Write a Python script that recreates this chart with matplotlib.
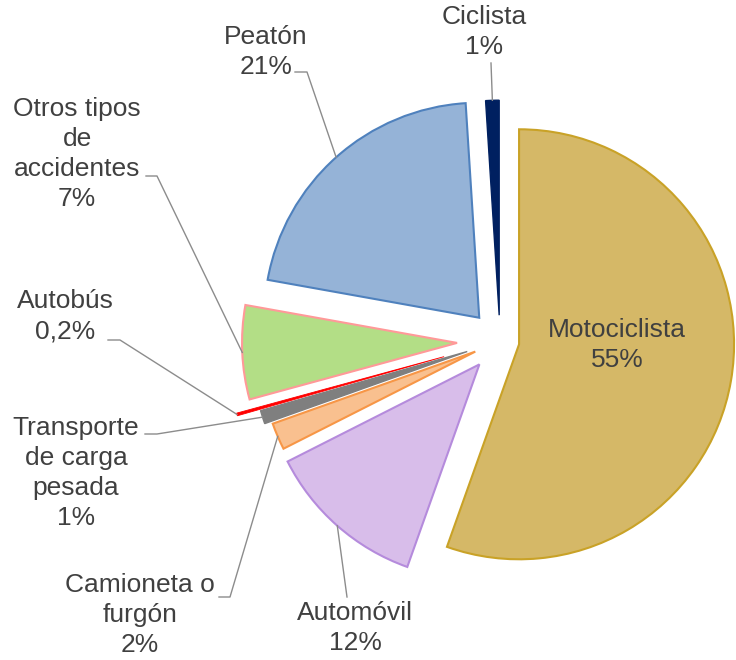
import numpy as np
import matplotlib
matplotlib.use("Agg")
import matplotlib.pyplot as plt

plt.rcParams["font.family"] = ["Liberation Sans", "DejaVu Sans"]

# data
labels = ["Motociclista", "Automóvil", "Camioneta o\nfurgón", "Transporte\nde carga\npesada",
          "Autobús", "Otros tipos\nde\naccidentes", "Peatón", "Ciclista"]
values = [55, 12, 2, 1, 0.2, 7, 21, 1]
explode = [0.09, 0.145, 0.125, 0.16, 0.27, 0.2, 0.145, 0.12]
fills = ["#D5B867", "#D8BDEA", "#F9C08F", "#7F7F7F", "#FF0000", "#B3DE86", "#95B3D7", "#002060"]
edges = ["#C9A227", "#B58BDC", "#F79646", "#7F7F7F", "#FF0000", "#FF9999", "#4F81BD", "#002060"]
edge_lw = [1.5, 1.5, 1.5, 1.0, 0.6, 1.5, 1.5, 1.0]

# layout in pixel coordinates (label centre, leader start, leader elbow)
label_pos = [(617, 345), (355, 628), (140, 615), (76, 473), (65, 316), (77, 154), (266, 52), (484, 32)]
leader = [None,
          [(347, 597)],
          [(219, 597), (230, 597)],
          [(145, 434), (157, 434)],
          [(108, 340), (120, 340)],
          [(146, 176), (157, 176)],
          [(295, 72), (307, 72)],
          [(491, 63)]]

W, H = 736, 660
R = 215.0
CX, CY = 500, 341


def px(p):
    return ((p[0] - CX) / R, (CY - p[1]) / R)


def pct(v):
    if v < 1:
        return f"{v:.1f}".replace(".", ",") + "%"
    return f"{v:.0f}%"


fig = plt.figure(figsize=(W / 100, H / 100), dpi=100)
ax = fig.add_axes([0, 0, 1, 1])
wedges, _ = ax.pie(values, explode=explode, colors=fills, startangle=90, counterclock=False,
                   radius=1)
for w, ec, lw in zip(wedges, edges, edge_lw):
    w.set_edgecolor(ec)
    w.set_linewidth(lw)

ax.set_xlim(-CX / R, (W - CX) / R)
ax.set_ylim(-(H - CY) / R, CY / R)
ax.set_aspect("equal")
ax.axis("off")

txt_color = "#404040"
for i, w in enumerate(wedges):
    text = f"{labels[i]}\n{pct(values[i])}"
    ax.text(*px(label_pos[i]), text, ha="center", va="center", fontsize=19,
            color=txt_color, linespacing=1.32)
    if leader[i] is None:
        continue
    mid = np.deg2rad((w.theta1 + w.theta2) / 2)
    cx, cy = w.center
    end = (cx + w.r * np.cos(mid), cy + w.r * np.sin(mid))
    pts = [px(p) for p in leader[i]] + [end]
    xs, ys = zip(*pts)
    ax.plot(xs, ys, color="#8C8C8C", lw=1)

fig.savefig("out.png", dpi=100)
